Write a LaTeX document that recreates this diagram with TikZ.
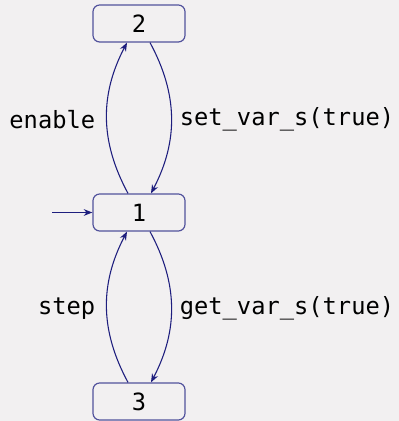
\documentclass[tikz,border=0pt]{standalone}
\usepackage{fontspec}
\setmonofont{DejaVu Sans Mono}
\usetikzlibrary{arrows.meta}
\definecolor{bg}{HTML}{F2F0F1}
\definecolor{boxc}{HTML}{52529C}
\definecolor{edgec}{HTML}{1E1E7E}
\begin{document}
\begin{tikzpicture}[x=0.75pt,y=0.75pt,
  state/.style={draw=boxc, line width=0.9pt, rounded corners=5pt,
    minimum width=69pt, minimum height=27.75pt, inner sep=0pt,
    font=\ttfamily\fontsize{17.8}{21}\selectfont, text=black},
  trans/.style={draw=edgec, line width=0.8pt, -{Stealth[length=6.5pt,width=5pt]}},
  lab/.style={font=\ttfamily\fontsize{17.8}{21}\selectfont, text=black, inner sep=0pt}]
\fill[bg] (0,0) rectangle (399,421);
\useasboundingbox (0,0) rectangle (399,421);
\node[state] (n2) at (139,397.5) {2};
\node[state] (n1) at (139,208.5) {1};
\node[state] (n3) at (139,19.5) {3};
\coordinate (init) at (52,208.5);
\draw[trans] (init) -- (n1.west);
\draw[trans] ([xshift=-8.25pt]n1.north) to[bend left=28]
  node[lab, left=8.25pt, pos=0.5, yshift=-1pt] {enable} ([xshift=-9pt]n2.south);
\draw[trans] ([xshift=8.25pt]n2.south) to[bend left=28]
  node[lab, right=6pt, pos=0.5, yshift=-1pt] {set\_var\_s(true)} ([xshift=9pt]n1.north);
\draw[trans] ([xshift=-8.25pt]n3.north) to[bend left=28]
  node[lab, left=8.25pt, pos=0.5, yshift=-1pt] {step} ([xshift=-9pt]n1.south);
\draw[trans] ([xshift=8.25pt]n1.south) to[bend left=28]
  node[lab, right=6pt, pos=0.5, yshift=-1pt] {get\_var\_s(true)} ([xshift=9pt]n3.north);
\end{tikzpicture}
\end{document}
